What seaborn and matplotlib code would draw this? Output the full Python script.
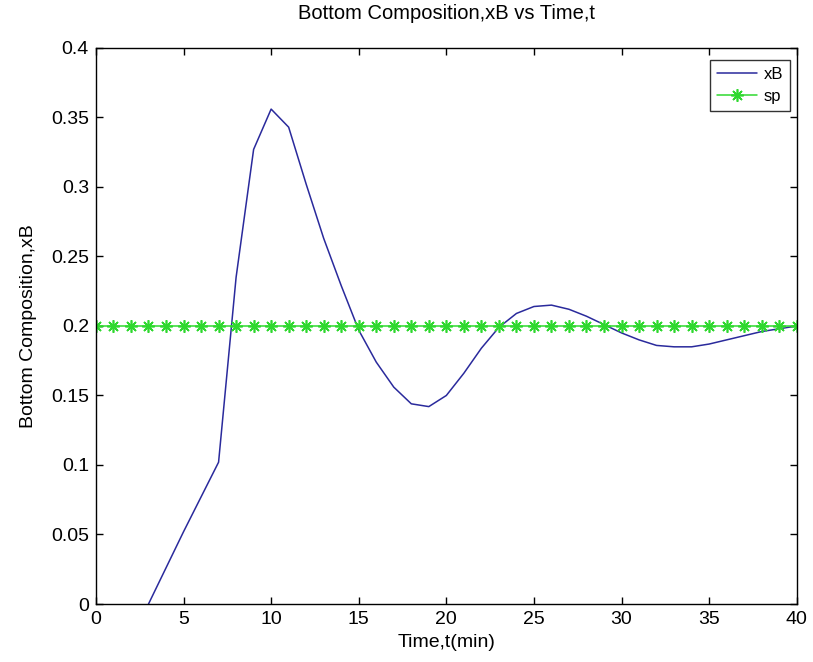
import numpy as np
import pandas as pd
import matplotlib
matplotlib.use('Agg')
import matplotlib.pyplot as plt
import seaborn as sns

# data
t_xb = list(range(3, 41))
xB = [0.000, 0.026, 0.052, 0.077, 0.102, 0.235, 0.327, 0.356, 0.343, 0.302,
      0.263, 0.229, 0.197, 0.174, 0.156, 0.144, 0.142, 0.150, 0.166, 0.184,
      0.199, 0.209, 0.214, 0.215, 0.212, 0.207, 0.201, 0.195, 0.190, 0.186,
      0.185, 0.185, 0.187, 0.190, 0.193, 0.196, 0.198, 0.200]
t_sp = list(range(0, 41))
sp = [0.2] * len(t_sp)

xticks = [0, 5, 10, 15, 20, 25, 30, 35, 40]
yticks = [0, 0.05, 0.1, 0.15, 0.2, 0.25, 0.3, 0.35, 0.4]
yticklabels = ['0', '0.05', '0.1', '0.15', '0.2', '0.25', '0.3', '0.35', '0.4']

df_xb = pd.DataFrame({'t': t_xb, 'val': xB})
df_sp = pd.DataFrame({'t': t_sp, 'val': sp})

sns.set_style('ticks')
plt.rcParams['font.family'] = ['Liberation Sans', 'DejaVu Sans']
plt.rcParams['text.color'] = 'black'
plt.rcParams['axes.labelcolor'] = 'black'

fig = plt.figure(figsize=(8.13, 6.62), dpi=100)
ax = fig.add_axes([0.118, 0.0876, 0.862, 0.84])

sns.lineplot(data=df_xb, x='t', y='val', ax=ax, color='#2a2a9c', linewidth=1.1, label='xB')
sns.lineplot(data=df_sp, x='t', y='val', ax=ax, color='#2fd82f', linewidth=1.1,
             marker=(8, 2, 0), markersize=9, markeredgewidth=1.2,
             markeredgecolor='#2fd82f', label='sp')

ax.set_xlim(0, 40)
ax.set_ylim(0, 0.4)
ax.set_xticks(xticks)
ax.set_xticklabels([str(x) for x in xticks])
ax.set_yticks(yticks)
ax.set_yticklabels(yticklabels)
ax.tick_params(direction='in', length=5, width=1, top=True, right=True,
               labelsize=14, colors='black', labelcolor='black', pad=5)
for s in ax.spines.values():
    s.set_visible(True)
    s.set_color('black')
    s.set_linewidth(1)

ax.set_title('Bottom Composition,xB vs Time,t', fontsize=14.5, pad=21, color='black')
ax.set_xlabel('Time,t(min)', fontsize=14, labelpad=4)
ax.set_ylabel('Bottom Composition,xB', fontsize=14, labelpad=10)

leg = ax.legend(loc='upper right', bbox_to_anchor=(0.990, 0.978), borderaxespad=0,
                fontsize=12, frameon=True, fancybox=False, edgecolor='black',
                handlelength=2.4, handletextpad=0.4, borderpad=0.4, labelspacing=0.45)
leg.get_frame().set_linewidth(1)
for txt in leg.get_texts():
    txt.set_color('black')

fig.savefig('out.png', dpi=100)
